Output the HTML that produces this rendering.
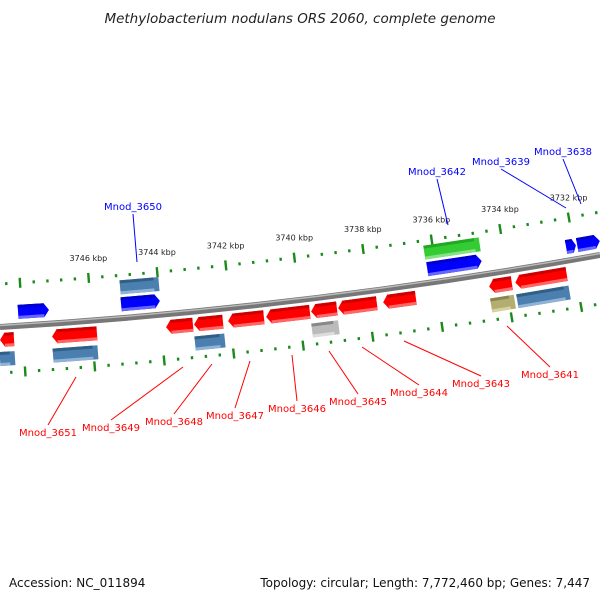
<!DOCTYPE html>
<html><head><meta charset="utf-8"><style>
html,body{margin:0;padding:0;background:#fff;}
svg{display:block;font-family:"DejaVu Sans","Liberation Sans",sans-serif;}
</style></head><body>
<svg id="map" width="600" height="600" viewBox="0 0 600 600" xmlns="http://www.w3.org/2000/svg">
<text x="300" y="23" text-anchor="middle" font-size="13.5" font-style="italic" fill="#222">Methylobacterium nodulans ORS 2060, complete genome</text>
<path d="M0,327 Q300,309 600,255" fill="none" stroke="#777" stroke-width="6"/>
<path d="M0,325.5 Q300,307.5 600,253.5" fill="none" stroke="#bbb" stroke-width="1.4"/>
<g id="ticks"></g><g id="genes"></g><g id="labels"></g>
<text x="9" y="587" font-size="12" fill="#111">Accession: NC_011894</text>
<text x="590" y="587" text-anchor="end" font-size="12" fill="#111">Topology: circular; Length: 7,772,460 bp; Genes: 7,447</text>
</svg>
<script>
// kbp tick labels
const kbpLabels = [3746, 3744, 3742, 3740, 3738, 3736, 3734, 3732];
// genes: [startX, endX, lane, color, direction]
const geneStart = [18,120,121,424,427,566,577, 0,0,52,53,166,194,228,266,311,338,383,489,515,195,312,491,517];
const geneEnd   = [49,159,160,480,482,576,600, 14,15,97,98,193,223,264,310,337,377,416,512,567,225,339,515,570];
const geneLane  = [-1,-2,-1,-2,-1,-1,-1, 1,2,1,2,1,1,1,1,1,1,1,1,1,2,2,2,2];
const geneColor = ['blue','steel','blue','green','blue','blue','blue','red','steel','red','steel','red','red','red','red','red','red','red','red','red','steel','gray','olive','steel'];
// labels
const labelNames = ['Mnod_3650','Mnod_3642','Mnod_3639','Mnod_3638','Mnod_3651','Mnod_3649','Mnod_3648','Mnod_3647','Mnod_3646','Mnod_3645','Mnod_3644','Mnod_3643','Mnod_3641'];
const labelX = [133,437,501,563,48,111,174,235,297,358,419,481,550];
const labelY = [210,175,165,155,436,431,425,419,412,405,396,387,378];
const anchorX = [137,448,566,581,76,183,212,250,292,329,362,404,507];
const anchorY = [262,225,208,204,377,367,364,361,355,351,347,341,326];

const NS='http://www.w3.org/2000/svg';
function cy(x){return 327-0.06*x-0.0001*x*x;}
function ang(x){return Math.atan(-0.06-0.0002*x)*180/Math.PI;}
function mk(tag,attrs,parent){const e=document.createElementNS(NS,tag);for(const k in attrs)e.setAttribute(k,attrs[k]);parent.appendChild(e);return e;}
const tg=document.getElementById('ticks');
function kx(k){return 157+(3744-k)*34.3;}
for(let i=-20;i<=60;i++){
  const x=kx(3750-i*0.4); if(x<-5||x>605) continue;
  const major=i%5===0;
  const y=cy(x)-43;
  const t=mk('rect',{x:x-1,y:y-(major?5:1.5),width:2.4,height:major?10:3,fill:'#1a8a1a',transform:`rotate(${ang(x)} ${x} ${y})`},tg);
  
  
}
for(let i=-20;i<=60;i++){
  const x=25+i*13.9; if(x<-5||x>605) continue;
  const major=i%5===0;
  const y=cy(x)+46+(x>450?(x-450)*0.02:0);
  const t=mk('rect',{x:x-1,y:y-(major?5:1.5),width:2.4,height:major?10:3,fill:'#1a8a1a',transform:`rotate(${ang(x)} ${x} ${y})`},tg);
  
  
}
kbpLabels.forEach(k=>{
  const x=kx(k);
  const t=mk('text',{x:x,y:cy(x)-60,'text-anchor':'middle','font-size':'8',fill:'#222'},tg);
  t.textContent=k+' kbp';
  
  
});
const cols={blue:['#0000cc','#0000ff','#6666ff'],red:['#cc0000','#ff0000','#ff6666'],steel:['#2f5f85','#4a7fb0','#8fb3d4'],green:['#22a822','#33cc33','#88e088'],gray:['#888','#bbb','#ddd'],olive:['#8a8650','#b3ae70','#d6d2a0']};
const gg=document.getElementById('genes');
for(let i=0;i<geneStart.length;i++){
  const x0=geneStart[i],x1=geneEnd[i],lane=geneLane[i],c=cols[geneColor[i]];
  const xm=(x0+x1)/2, off=lane===-1?-14:lane===-2?-31:lane===1?13:32;
  const y=cy(xm)+off, w=x1-x0, h=14, a=ang(xm);
  const g=mk('g',{transform:`rotate(${a} ${xm} ${y})`},gg);
  
  
  const L=xm-w/2,R=xm+w/2,T=y-h/2,B=y+h/2,ar=Math.min(5,w/3);
  let pts;
  if(geneColor[i]==='blue') pts=`${L},${T} ${R-ar},${T} ${R},${y} ${R-ar},${B} ${L},${B}`;
  else if(geneColor[i]==='red') pts=`${L+ar},${T} ${R},${T} ${R},${B} ${L+ar},${B} ${L},${y}`;
  else pts=`${L},${T} ${R},${T} ${R},${B} ${L},${B}`;
  mk('polygon',{points:pts,fill:c[1]},g);
  mk('rect',{x:L+(geneColor[i]==='red'?ar:0),y:T,width:w-ar,height:3,fill:c[0]},g);
  mk('rect',{x:L+(geneColor[i]==='red'?ar:0),y:B-3,width:w-ar,height:3,fill:c[2]},g);
}
const lg=document.getElementById('labels');
for(let i=0;i<labelNames.length;i++){
  const blue=i<4, col=blue?'#0000ff':'#ff0000';
  const ly=blue?labelY[i]+4:labelY[i]-11;
  const l=mk('line',{x1:anchorX[i],y1:anchorY[i],x2:labelX[i],y2:ly,stroke:col,'stroke-width':1},lg);
  
  
  const t=mk('text',{x:labelX[i],y:labelY[i],'text-anchor':'middle','font-size':'10',fill:col},lg);
  t.textContent=labelNames[i];
  
  
}
</script>
</body></html>
